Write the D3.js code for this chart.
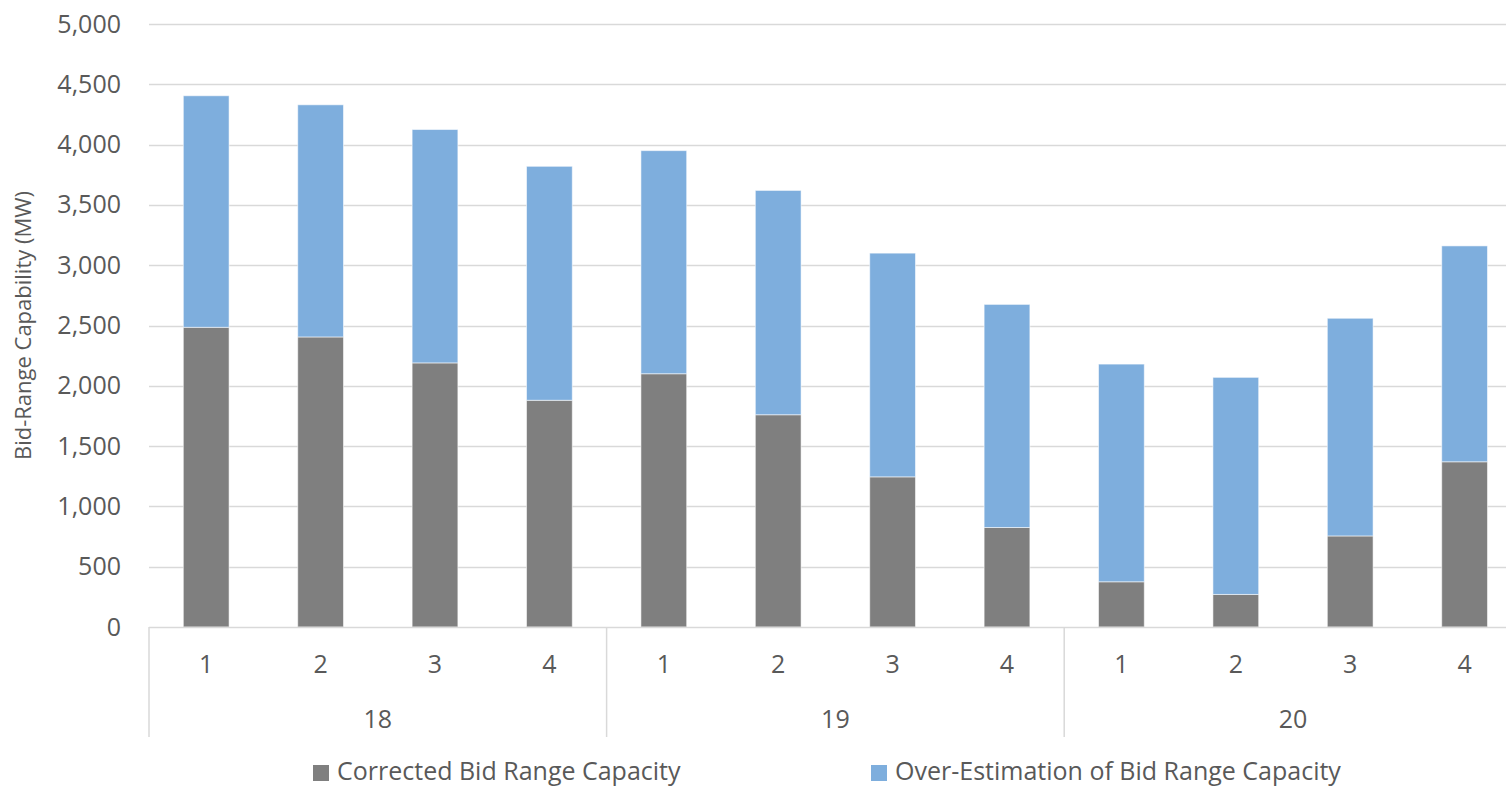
<!DOCTYPE html>
<html>
<head>
<meta charset="utf-8">
<script src="https://cdn.jsdelivr.net/npm/d3@7"></script>
<style>
  html, body { margin: 0; padding: 0; background: #ffffff; }
  svg { display: block; font-family: "Open Sans", "DejaVu Sans", sans-serif; }
</style>
</head>
<body>
<svg id="chart" width="1506" height="787"></svg>
<script>
// Quarters within each year
const years = ["18", "19", "20"];
const quarters = ["1", "2", "3", "4"];

// Corrected bid range capacity (MW), per quarter
const corrected = [2485, 2405, 2190, 1880, 2100, 1760, 1245, 825, 375, 270, 755, 1370];
// Over-estimation of bid range capacity (MW), stacked on top
const overEstimation = [1920, 1925, 1935, 1940, 1850, 1860, 1855, 1850, 1805, 1800, 1805, 1790];

const yTicks = [0, 500, 1000, 1500, 2000, 2500, 3000, 3500, 4000, 4500, 5000];

const seriesNames = ["Corrected Bid Range Capacity", "Over-Estimation of Bid Range Capacity"];
const seriesColors = ["#7f7f7f", "#7eaedd"];

const categories = [];
years.forEach(y => quarters.forEach(q => categories.push({ year: y, quarter: q, key: y + "-" + q })));

const rows = categories.map((c, i) => ({
  key: c.key, year: c.year, quarter: c.quarter,
  corrected: corrected[i], over: overEstimation[i]
}));

const svg = d3.select("#chart");
const textColor = "#595959";
const gridColor = "#d9d9d9";

const left = 149, step = 114.4;
const x = d3.scaleBand()
  .domain(rows.map(d => d.key))
  .range([left, left + step * categories.length])
  .paddingInner(0.6)
  .paddingOuter(0.3);

const y = d3.scaleLinear().domain([0, 5000]).range([627, 24]);

// Horizontal gridlines
svg.append("g")
  .selectAll("line")
  .data(yTicks.filter(t => t > 0))
  .join("line")
  .attr("x1", left)
  .attr("x2", 1506)
  .attr("y1", d => Math.round(y(d)) + 0.5)
  .attr("y2", d => Math.round(y(d)) + 0.5)
  .attr("stroke", gridColor)
  .attr("stroke-width", 1.5);

// Y axis tick labels
const yAxis = d3.axisLeft(y)
  .tickValues(yTicks)
  .tickFormat(d3.format(","))
  .tickSize(0)
  .tickPadding(0);
const gy = svg.append("g").attr("transform", "translate(121,0)").call(yAxis);
gy.select(".domain").remove();
gy.selectAll("text")
  .attr("fill", textColor)
  .style("font-size", "25px")
  .style("font-family", "'Open Sans', sans-serif");

// Stacked bars
const stack = d3.stack().keys(["corrected", "over"]);
const stacked = stack(rows);

svg.append("g")
  .selectAll("g")
  .data(stacked)
  .join("g")
  .attr("fill", (d, i) => seriesColors[i])
  .selectAll("rect")
  .data(d => d)
  .join("rect")
  .attr("x", d => x(d.data.key))
  .attr("width", x.bandwidth())
  .attr("y", d => y(d[1]))
  .attr("height", d => y(d[0]) - y(d[1]))
  .attr("stroke", "rgba(255,255,255,0.55)")
  .attr("stroke-width", 1);

// Category axis: baseline and group separators
const base = svg.append("g");
base.append("line")
  .attr("x1", left).attr("x2", 1506)
  .attr("y1", y(0) + 0.5).attr("y2", y(0) + 0.5)
  .attr("stroke", gridColor).attr("stroke-width", 1.5);

const sepX = d3.range(years.length + 1).map(i => left + i * quarters.length * x.step());
base.selectAll("line.sep")
  .data(sepX)
  .join("line")
  .attr("class", "sep")
  .attr("x1", d => d).attr("x2", d => d)
  .attr("y1", y(0)).attr("y2", 737)
  .attr("stroke", gridColor).attr("stroke-width", 1.5);

// Quarter labels
svg.append("g")
  .selectAll("text")
  .data(rows)
  .join("text")
  .attr("x", d => x(d.key) + x.bandwidth() / 2)
  .attr("y", 664)
  .attr("dy", "0.35em")
  .attr("text-anchor", "middle")
  .attr("fill", textColor)
  .style("font-size", "25px")
  .text(d => d.quarter);

// Year labels
svg.append("g")
  .selectAll("text")
  .data(years)
  .join("text")
  .attr("x", (d, i) => left + (i + 0.5) * quarters.length * x.step())
  .attr("y", 719)
  .attr("dy", "0.35em")
  .attr("text-anchor", "middle")
  .attr("fill", textColor)
  .style("font-size", "25px")
  .text(d => d);

// Y axis title
svg.append("text")
  .attr("transform", `translate(31,${(y(0) + y(5000)) / 2}) rotate(-90)`)
  .attr("text-anchor", "middle")
  .attr("fill", textColor)
  .style("font-size", "22px")
  .text("Bid-Range Capability (MW)");

// Legend
const legendX = [313, 871];
const legend = svg.append("g")
  .selectAll("g")
  .data(seriesNames)
  .join("g")
  .attr("transform", (d, i) => `translate(${legendX[i]},0)`);
legend.append("rect")
  .attr("x", 0).attr("y", 765)
  .attr("width", 16).attr("height", 16)
  .attr("fill", (d, i) => seriesColors[i]);
legend.append("text")
  .attr("x", 24).attr("y", 780)
  .attr("fill", textColor)
  .style("font-size", "25px")
  .text(d => d);
</script>
</body>
</html>
